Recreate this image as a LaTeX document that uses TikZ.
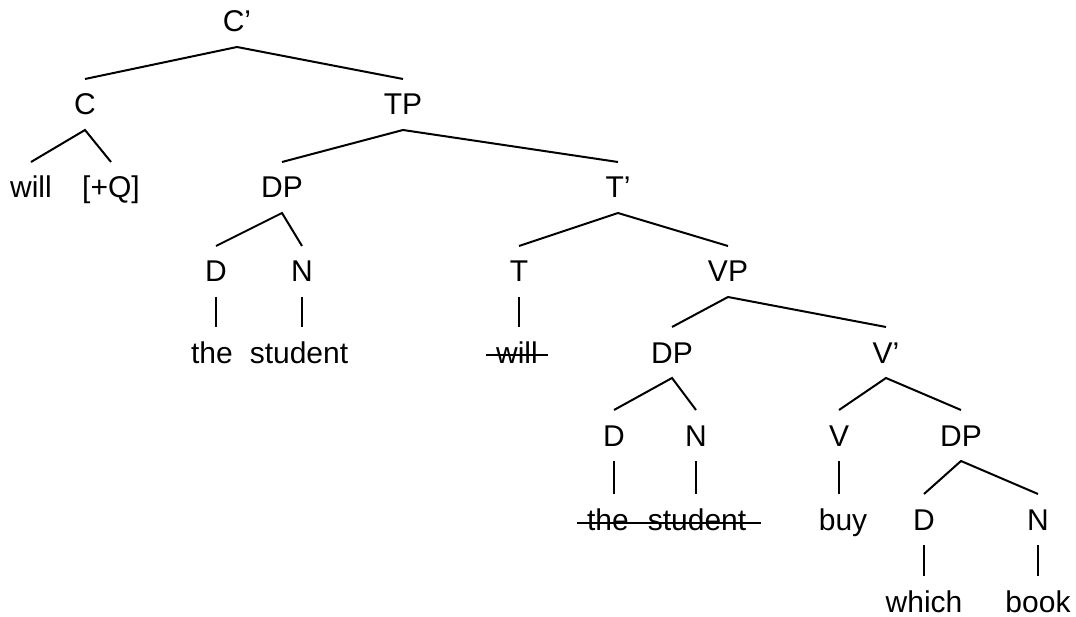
\documentclass[tikz,border=0pt]{standalone}
\usepackage{fontspec}
\setmainfont{Liberation Sans}
\usetikzlibrary{calc}

\begin{document}
\begin{tikzpicture}[x=1pt,y=-1pt,
    cat/.style={anchor=base,inner sep=0pt,outer xsep=0pt,outer ysep=15pt,
        text height=21pt,text depth=0pt,font=\fontsize{30}{35}\selectfont},
    branch/.style={line width=2pt},
    strike/.style={line width=2pt}]
    \useasboundingbox (0,0) rectangle (1076,617);
    %categorie e parole
    \node[cat] (cbar) at (237,32) {C'};
    \node[cat] (c) at (85,115) {C};
    \node[cat] (tp) at (403,115) {TP};
    \node[cat] (willc) at (31,198) {will};
    \node[cat] (q) at (111,198) {[+Q]};
    \node[cat] (dpsub) at (282,198) {DP};
    \node[cat] (tbar) at (618,198) {T'};
    \node[cat] (dsub) at (216,282) {D};
    \node[cat] (nsub) at (302,282) {N};
    \node[cat] (t) at (519,282) {T};
    \node[cat] (vp) at (728,282) {VP};
    \node[cat] (thesub) at (212,363) {the};
    \node[cat] (studsub) at (299,363) {student};
    \node[cat] (willt) at (517,363) {will};
    \node[cat] (dpspec) at (672,363) {DP};
    \node[cat] (vbar) at (886,363) {V'};
    \node[cat] (dspec) at (614,446) {D};
    \node[cat] (nspec) at (696,446) {N};
    \node[cat] (v) at (839,446) {V};
    \node[cat] (dpobj) at (961,446) {DP};
    \node[cat] (thespec) at (608,530) {the};
    \node[cat] (studspec) at (697,530) {student};
    \node[cat] (buy) at (843,530) {buy};
    \node[cat] (dobj) at (924,530) {D};
    \node[cat] (nobj) at (1038,530) {N};
    \node[cat] (which) at (924,612) {which};
    \node[cat] (book) at (1038,612) {book};
    %rami binari
    \draw[branch] (c.north) -- (cbar.south) -- (tp.north);
    \draw[branch] (willc.north) -- (c.south) -- (q.north);
    \draw[branch] (dpsub.north) -- (tp.south) -- (tbar.north);
    \draw[branch] (dsub.north) -- (dpsub.south) -- (nsub.north);
    \draw[branch] (t.north) -- (tbar.south) -- (vp.north);
    \draw[branch] (dpspec.north) -- (vp.south) -- (vbar.north);
    \draw[branch] (dspec.north) -- (dpspec.south) -- (nspec.north);
    \draw[branch] (v.north) -- (vbar.south) -- (dpobj.north);
    \draw[branch] (dobj.north) -- (dpobj.south) -- (nobj.north);
    %rami unari
    \draw[branch] (dsub.south) -- (dsub.south |- thesub.north);
    \draw[branch] (nsub.south) -- (nsub.south |- studsub.north);
    \draw[branch] (t.south) -- (t.south |- willt.north);
    \draw[branch] (dspec.south) -- (dspec.south |- thespec.north);
    \draw[branch] (nspec.south) -- (nspec.south |- studspec.north);
    \draw[branch] (v.south) -- (v.south |- buy.north);
    \draw[branch] (dobj.south) -- (dobj.south |- which.north);
    \draw[branch] (nobj.south) -- (nobj.south |- book.north);
    %copie cancellate
    \draw[strike] ($(willt.base west)+(-10,-7.5)$) -- ($(willt.base east)+(10,-7.5)$);
    \draw[strike] ($(thespec.base west)+(-10,-7.5)$) -- ($(studspec.base east)+(15,-7.5)$);
\end{tikzpicture}
\end{document}
